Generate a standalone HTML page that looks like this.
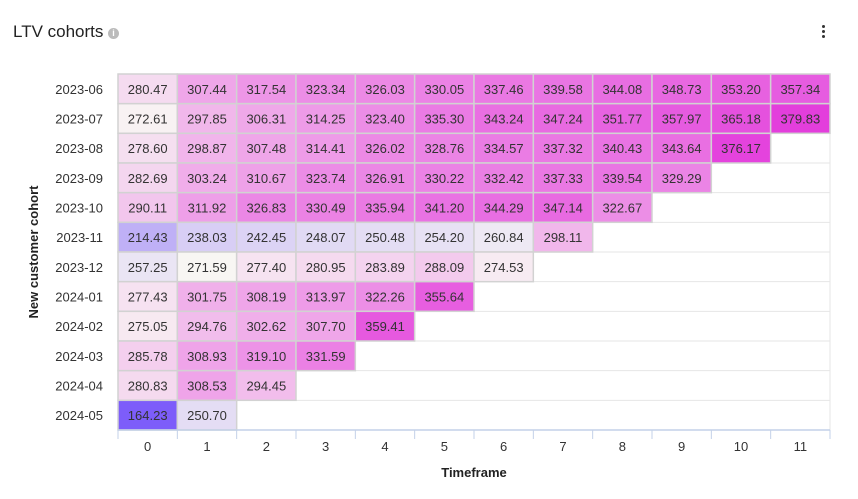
<!DOCTYPE html>
<html><head><meta charset="utf-8"><style>
body{margin:0;background:#fff;font-family:"Liberation Sans",sans-serif;}
#wrap{position:relative;width:858px;height:499px;overflow:hidden}
.title{position:absolute;left:13px;top:22px;font-size:17px;color:#222;}
.info{position:absolute;left:108px;top:28px;width:11px;height:11px;border-radius:50%;background:#bbb;color:#fff;font-size:9px;text-align:center;line-height:11px;font-weight:bold}
.menu{position:absolute;left:822px;top:25px;width:4px;}
.menu i{display:block;width:3px;height:3px;background:#333;border-radius:50%;margin-bottom:2px}
</style></head><body>
<div id="wrap">
<div class="title">LTV cohorts</div>
<div class="info">i</div>
<div class="menu"><i></i><i></i><i></i></div>
<svg id="svg" width="858" height="499" style="position:absolute;left:0;top:0"></svg>
</div>
<script>
const cohorts=["2023-06","2023-07","2023-08","2023-09","2023-10","2023-11","2023-12","2024-01","2024-02","2024-03","2024-04","2024-05"];
const timeframes=["0","1","2","3","4","5","6","7","8","9","10","11"];
const values=[
[280.47,307.44,317.54,323.34,326.03,330.05,337.46,339.58,344.08,348.73,353.20,357.34],
[272.61,297.85,306.31,314.25,323.40,335.30,343.24,347.24,351.77,357.97,365.18,379.83],
[278.60,298.87,307.48,314.41,326.02,328.76,334.57,337.32,340.43,343.64,376.17],
[282.69,303.24,310.67,323.74,326.91,330.22,332.42,337.33,339.54,329.29],
[290.11,311.92,326.83,330.49,335.94,341.20,344.29,347.14,322.67],
[214.43,238.03,242.45,248.07,250.48,254.20,260.84,298.11],
[257.25,271.59,277.40,280.95,283.89,288.09,274.53],
[277.43,301.75,308.19,313.97,322.26,355.64],
[275.05,294.76,302.62,307.70,359.41],
[285.78,308.93,319.10,331.59],
[280.83,308.53,294.45],
[164.23,250.70]];
const NS="http://www.w3.org/2000/svg",svg=document.getElementById("svg");
const X0=118,X1=830,Y0=74,Y1=430;
const cw=(X1-X0)/timeframes.length,rh=(Y1-Y0)/cohorts.length;
const xPos=i=>X0+i*cw, yPos=j=>Y0+j*rh;
function mk(t,a){const e=document.createElementNS(NS,t);for(const k in a)e.setAttribute(k,a[k]);svg.appendChild(e);return e;}
function lerp(a,b,t){return a.map((v,i)=>Math.round(v+(b[i]-v)*t));}
function color(v){const lo=[124,92,250],mid=[248,246,243],hi=[227,62,220];
 if(v<272){const t=Math.max(0,(v-164)/(272-164));return "rgb("+lerp(lo,mid,Math.pow(t,0.8))+")";}
 const t=Math.min(1,(v-272)/(380-272));return "rgb("+lerp(mid,hi,Math.pow(t,0.75))+")";}
for(let j=0;j<=cohorts.length;j++){const l=mk("line",{x1:X0,x2:X1,y1:yPos(j),y2:yPos(j),stroke:"#e6e6e6"});}
mk("line",{x1:X1,x2:X1,y1:Y0,y2:Y1,stroke:"#e6e6e6"});
values.forEach((row,j)=>row.forEach((v,i)=>{
 const r=mk("rect",{x:xPos(i),y:yPos(j),width:cw,height:rh,fill:color(v),stroke:"#d2d2d2","stroke-width":1.5});
 
 
 const t=mk("text",{x:xPos(i)+cw/2,y:yPos(j)+rh/2+5,"text-anchor":"middle","font-size":13,fill:"#333"});
 t.textContent=v.toFixed(2);
 
 
}));
cohorts.forEach((c,j)=>{const t=mk("text",{x:103,y:yPos(j)+rh/2+5,"text-anchor":"end","font-size":13,fill:"#333"});t.textContent=c;
 
 });
mk("line",{x1:X0,x2:X1,y1:Y1,y2:Y1,stroke:"#c3d1e8","stroke-width":1.5});
timeframes.forEach((f,i)=>{
 mk("line",{x1:xPos(i),x2:xPos(i),y1:Y1,y2:Y1+9,stroke:"#c3d1e8"});
 const t=mk("text",{x:xPos(i)+cw/2,y:451,"text-anchor":"middle","font-size":13,fill:"#333"});t.textContent=f;
 
 });
mk("line",{x1:X1,x2:X1,y1:Y1,y2:Y1+9,stroke:"#c3d1e8"});
const xt=mk("text",{x:(X0+X1)/2,y:477,"text-anchor":"middle","font-size":13,"font-weight":"bold",fill:"#222"});xt.textContent="Timeframe";


const yt=mk("text",{x:0,y:0,"text-anchor":"middle","font-size":13,"font-weight":"bold",fill:"#222",transform:"translate(38,252) rotate(-90)"});yt.textContent="New customer cohort";


</script>
</body></html>
